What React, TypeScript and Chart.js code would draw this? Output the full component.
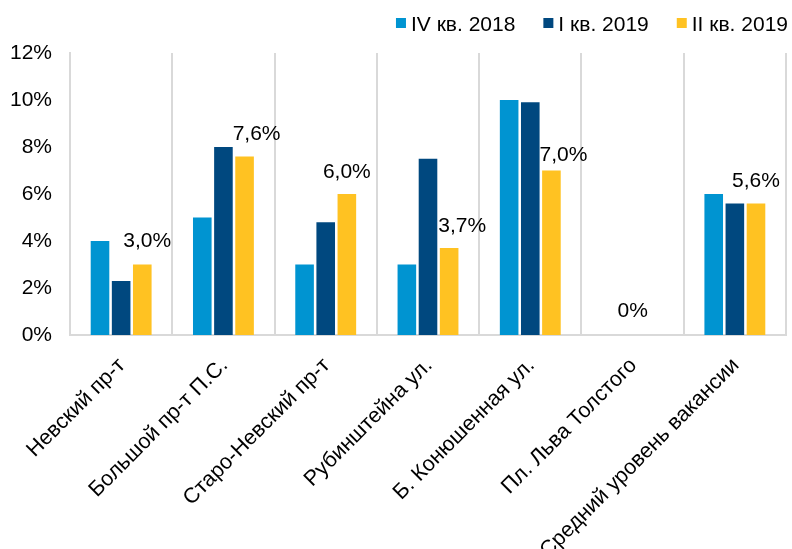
import React, { useEffect, useRef } from "react";
import { Chart, registerables } from "chart.js";

Chart.register(...registerables);

const categories = [
  "Невский пр-т",
  "Большой пр-т П.С.",
  "Старо-Невский пр-т",
  "Рубинштейна ул.",
  "Б. Конюшенная ул.",
  "Пл. Льва Толстого",
  "Средний уровень вакансии",
];
const seriesNames = ["IV кв. 2018", "I кв. 2019", "II кв. 2019"];
const q4_2018 = [4.0, 5.0, 3.0, 3.0, 10.0, 0, 6.0];
const q1_2019 = [2.3, 8.0, 4.8, 7.5, 9.9, 0, 5.6];
const q2_2019 = [3.0, 7.6, 6.0, 3.7, 7.0, 0, 5.6];
const yTicks = [0, 2, 4, 6, 8, 10, 12];

const colors = ["#0094D1", "#00487F", "#FFC222"];
const labelDx = [5, 12, 0, 13, 12, -21, 0];
const labelDy = [23, 22, 22, 22, 15, 24, 22];
const FONT = "'Liberation Sans', Arial, sans-serif";

function fmt(v: number) {
  if (v === 0) return "0%";
  return v.toFixed(1).replace(".", ",") + "%";
}

const valueLabels = {
  id: "valueLabels",
  afterDatasetsDraw(chart: any) {
    const ctx = chart.ctx;
    const meta = chart.getDatasetMeta(2);
    ctx.save();
    ctx.font = `21px ${FONT}`;
    ctx.fillStyle = "#000";
    ctx.textAlign = "center";
    ctx.textBaseline = "middle";
    meta.data.forEach((bar: any, i: number) => {
      const v = q2_2019[i];
      ctx.fillText(fmt(v), bar.x + labelDx[i], bar.y - labelDy[i]);
    });
    ctx.restore();
  },
};

const customLegend = {
  id: "customLegend",
  afterDraw(chart: any) {
    const ctx = chart.ctx;
    ctx.save();
    ctx.font = `21px ${FONT}`;
    ctx.textBaseline = "middle";
    ctx.textAlign = "left";
    const box = 10;
    const gapText = 5;
    const gapItem = 28;
    const widths = seriesNames.map((n) => ctx.measureText(n).width);
    let total = 0;
    widths.forEach((w, i) => {
      total += box + gapText + w + (i < widths.length - 1 ? gapItem : 0);
    });
    let x = 788 - total;
    const yc = 24;
    seriesNames.forEach((n, i) => {
      ctx.fillStyle = colors[i];
      ctx.fillRect(x, yc - 6, box, box);
      ctx.fillStyle = "#000";
      ctx.fillText(n, x + box + gapText, yc + 1);
      x += box + gapText + widths[i] + gapItem;
    });
    ctx.restore();
  },
};

export default function App() {
  const ref = useRef<HTMLCanvasElement | null>(null);
  useEffect(() => {
    if (!ref.current) return;
    const chart = new Chart(ref.current, {
      type: "bar",
      data: {
        labels: categories,
        datasets: [q4_2018, q1_2019, q2_2019].map((d, i) => ({
          label: seriesNames[i],
          data: d,
          backgroundColor: colors[i],
          borderWidth: 0,
          categoryPercentage: 0.62,
          barPercentage: 0.88,
        })),
      },
      options: {
        animation: false,
        responsive: false,
        maintainAspectRatio: false,
        layout: { padding: { left: 0, right: 6, top: 53, bottom: 0 } },
        plugins: {
          legend: { display: false },
          tooltip: { enabled: false },
        },
        scales: {
          x: {
            grid: {
              display: true,
              offset: true,
              color: "#d9d9d9",
              lineWidth: 2,
              drawTicks: false,
            },
            border: { display: true, color: "#d9d9d9", width: 2 },
            ticks: {
              minRotation: 45,
              maxRotation: 45,
              autoSkip: false,
              padding: 18,
              labelOffset: 1,
              color: "#000",
              font: { family: FONT, size: 21.5 },
            },
            afterFit(scale: any) {
              scale.height = 214;
            },
          },
          y: {
            min: 0,
            max: 12,
            afterBuildTicks(scale: any) {
              scale.ticks = yTicks.map((v) => ({ value: v }));
            },
            grid: { display: false, drawTicks: false },
            border: { display: true, color: "#d9d9d9", width: 2 },
            ticks: {
              padding: 18,
              color: "#000",
              font: { family: FONT, size: 21 },
              callback: (v: any) => v + "%",
            },
            afterFit(scale: any) {
              scale.width = 70;
            },
          },
        },
      },
      plugins: [valueLabels, customLegend],
    });
    return () => chart.destroy();
  }, []);
  return (
    <div style={{ position: "absolute", left: 0, top: 0, width: 792, height: 549, background: "#fff" }}>
      <canvas ref={ref} width={792} height={549} />
    </div>
  );
}
